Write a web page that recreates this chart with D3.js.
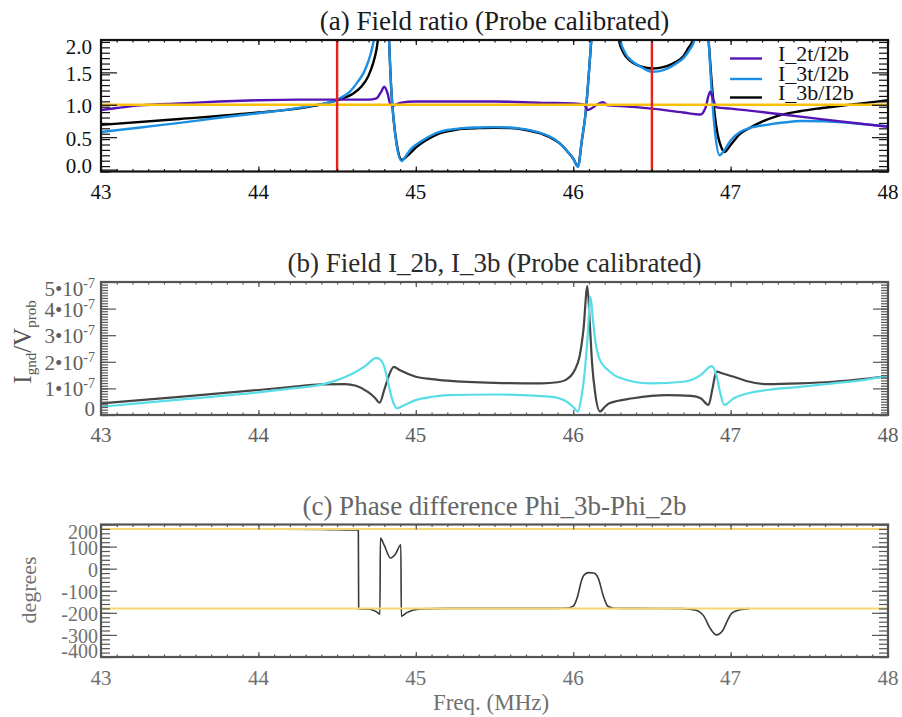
<!DOCTYPE html>
<html><head><meta charset="utf-8">
<script src="https://cdn.jsdelivr.net/npm/d3@7"></script>
<style>
body{margin:0;background:#fff}
svg{display:block}
</style>
</head><body>
<svg id="chart" width="902" height="717" font-family="'Liberation Serif', 'DejaVu Serif', 'Noto Serif', serif"></svg>
<script>
// ---------------- data ----------------
const xTicks = [43, 44, 45, 46, 47, 48];
const ratioTicks = [0, 0.5, 1.0, 1.5, 2.0];
const ratioTickLabels = ["0.0", "0.5", "1.0", "1.5", "2.0"];
const fieldTicks = [0, 1e-7, 2e-7, 3e-7, 4e-7, 5e-7];
const fieldTickMantissa = ["0", "1", "2", "3", "4", "5"];
const phaseTicks = [200, 100, 0, -100, -200, -300, -400];
const phaseTickLabels = ["200", "100", "0", "-100", "-200", "-300", "-400"];
const legendLabels = ["I_2t/I2b", "I_3t/I2b", "I_3b/I2b"];
const markerFreqs = [44.5, 46.5];
const ratioRef = [1.0];
const phaseRefs = [180, -180];

// (a) I_2t/I2b  [freq MHz, ratio]
const ratio2t = [[43,0.92],[43.1,0.95],[43.25,0.99],[43.5,1.02],[43.75,1.05],[44,1.07],[44.25,1.08],[44.5,1.08],[44.7,1.08],[44.75,1.1],[44.78,1.2],[44.8,1.28],[44.82,1.18],[44.84,1.0],[44.86,0.99],[44.9,1.03],[45.0,1.05],[45.5,1.05],[45.8,1.03],[46.0,1.02],[46.07,1.0],[46.09,0.92],[46.12,0.95],[46.15,1.0],[46.19,1.04],[46.22,0.99],[46.3,0.98],[46.5,0.94],[46.7,0.88],[46.81,0.85],[46.84,0.95],[46.87,1.2],[46.89,1.08],[46.91,0.96],[47.0,0.94],[47.33,0.85],[47.6,0.77],[48,0.66]];
// (a) I_3t/I2b
const ratio3t = [[43,0.58],[43.25,0.65],[43.5,0.72],[43.75,0.8],[44,0.87],[44.2,0.93],[44.35,0.99],[44.5,1.08],[44.58,1.2],[44.63,1.35],[44.67,1.5],[44.7,1.68],[44.72,1.85],[44.74,2.1],[44.76,2.6],[44.82,2.6],[44.83,2.0],[44.845,1.2],[44.86,0.75],[44.88,0.35],[44.91,0.13],[44.94,0.22],[44.97,0.32],[45.0,0.38],[45.05,0.46],[45.1,0.53],[45.15,0.58],[45.2,0.61],[45.3,0.64],[45.4,0.65],[45.5,0.655],[45.6,0.65],[45.7,0.62],[45.8,0.56],[45.88,0.47],[45.93,0.37],[45.97,0.26],[46.0,0.17],[46.03,0.04],[46.055,0.45],[46.08,0.9],[46.1,1.5],[46.115,2.0],[46.13,2.6],[46.28,2.6],[46.3,2.0],[46.33,1.8],[46.37,1.68],[46.42,1.6],[46.47,1.53],[46.5,1.51],[46.55,1.52],[46.6,1.56],[46.65,1.63],[46.7,1.72],[46.74,1.85],[46.77,2.0],[46.79,2.6],[46.84,2.6],[46.86,2.0],[46.88,1.2],[46.9,0.6],[46.93,0.22],[46.96,0.3],[47.0,0.45],[47.06,0.58],[47.12,0.64],[47.23,0.69],[47.35,0.73],[47.45,0.75],[47.6,0.745],[47.75,0.72],[47.9,0.69],[48,0.67]];
// (a) I_3b/I2b
const ratio3b = [[43,0.69],[43.5,0.78],[44,0.88],[44.3,0.96],[44.5,1.07],[44.6,1.17],[44.65,1.27],[44.7,1.45],[44.73,1.65],[44.75,1.85],[44.77,2.2],[44.8,2.6],[44.82,2.6],[44.83,2.0],[44.845,1.2],[44.86,0.75],[44.88,0.38],[44.91,0.15],[44.95,0.22],[45.0,0.34],[45.05,0.43],[45.1,0.5],[45.15,0.56],[45.2,0.59],[45.3,0.63],[45.4,0.64],[45.5,0.645],[45.6,0.64],[45.7,0.61],[45.8,0.55],[45.88,0.46],[45.93,0.37],[45.97,0.26],[46.0,0.17],[46.03,0.05],[46.055,0.45],[46.08,0.9],[46.1,1.5],[46.115,2.0],[46.13,2.6],[46.27,2.6],[46.29,2.0],[46.32,1.8],[46.36,1.68],[46.42,1.6],[46.47,1.57],[46.5,1.56],[46.55,1.57],[46.6,1.6],[46.65,1.66],[46.7,1.75],[46.73,1.87],[46.76,2.0],[46.78,2.6],[46.84,2.6],[46.86,2.0],[46.885,1.2],[46.91,0.65],[46.94,0.35],[46.96,0.27],[47.0,0.38],[47.06,0.55],[47.12,0.64],[47.2,0.74],[47.3,0.83],[47.44,0.9],[47.55,0.94],[47.65,0.97],[47.86,1.03],[48,1.07]];

// (b) I_2b and I_3b field  [freq MHz, I_gnd/V_prob]
const field2b = [[43,0.44e-7],[43.5,0.68e-7],[44,0.94e-7],[44.2,1.05e-7],[44.4,1.15e-7],[44.55,1.16e-7],[44.62,1.1e-7],[44.7,0.85e-7],[44.74,0.65e-7],[44.77,0.46e-7],[44.8,0.95e-7],[44.83,1.5e-7],[44.86,1.81e-7],[44.9,1.68e-7],[45.0,1.44e-7],[45.1,1.35e-7],[45.2,1.29e-7],[45.5,1.21e-7],[45.8,1.19e-7],[45.9,1.23e-7],[45.95,1.31e-7],[46.01,1.69e-7],[46.04,2.19e-7],[46.065,3.2e-7],[46.09,4.85e-7],[46.105,3.5e-7],[46.12,1.94e-7],[46.14,0.8e-7],[46.17,0.13e-7],[46.2,0.3e-7],[46.23,0.44e-7],[46.38,0.63e-7],[46.6,0.75e-7],[46.75,0.72e-7],[46.81,0.63e-7],[46.86,0.38e-7],[46.885,1.0e-7],[46.91,1.63e-7],[46.95,1.56e-7],[47.02,1.44e-7],[47.1,1.28e-7],[47.23,1.16e-7],[47.44,1.19e-7],[47.65,1.25e-7],[47.87,1.37e-7],[48,1.46e-7]];
const field3b = [[43,0.31e-7],[43.5,0.58e-7],[44,0.85e-7],[44.2,0.99e-7],[44.4,1.14e-7],[44.5,1.31e-7],[44.6,1.56e-7],[44.68,1.85e-7],[44.75,2.15e-7],[44.78,2.05e-7],[44.8,1.81e-7],[44.83,1.06e-7],[44.855,0.5e-7],[44.88,0.25e-7],[44.92,0.35e-7],[45.0,0.56e-7],[45.1,0.68e-7],[45.2,0.75e-7],[45.5,0.77e-7],[45.85,0.69e-7],[45.96,0.5e-7],[46.0,0.3e-7],[46.03,0.13e-7],[46.05,0.6e-7],[46.07,1.44e-7],[46.09,2.8e-7],[46.11,4.44e-7],[46.125,3.6e-7],[46.14,2.81e-7],[46.17,2.06e-7],[46.22,1.7e-7],[46.28,1.44e-7],[46.49,1.19e-7],[46.7,1.25e-7],[46.81,1.5e-7],[46.88,1.84e-7],[46.91,1.5e-7],[46.935,0.8e-7],[46.96,0.38e-7],[47.02,0.63e-7],[47.1,0.8e-7],[47.23,0.94e-7],[47.44,1.06e-7],[47.65,1.19e-7],[47.87,1.34e-7],[48,1.47e-7]];

// (c) phase difference Phi_3b-Phi_2b [freq MHz, degrees]; null values = not drawn
const phaseDiff = [[43,179],[43.5,179],[44,179],[44.4,178],[44.5,176],[44.635,175],[44.637,-181],[44.7,-183],[44.73,-188],[44.76,-200],[44.772,-207],[44.775,139],[44.8,105],[44.84,48],[44.87,65],[44.905,108],[44.908,-215],[44.94,-200],[44.98,-188],[45.03,-182],[45.2,-180],[45.5,-180],[45.9,-180],[45.97,-178],[46.0,-170],[46.03,-120],[46.05,-60],[46.07,-28],[46.1,-18],[46.13,-20],[46.16,-45],[46.19,-120],[46.22,-170],[46.26,-179],[46.4,-180],[46.7,-181],[46.78,-188],[46.83,-215],[46.87,-270],[46.91,-300],[46.95,-280],[46.98,-235],[47.01,-200],[47.06,-186],[47.12,-181],[47.13,null]];

// ---------------- drawing ----------------
const svg = d3.select("#chart");
const L = 101, R = 888;
const x = d3.scaleLinear().domain([43, 48]).range([L, R]);
const xMinor = d3.range(43, 48.0001, 0.1).map(v => +v.toFixed(2));

const panels = [
  {key:"a", top:40, bottom:171.5, domain:[-0.03, 2.0], axis:"#111", lab:"#111", title:"#1a1a1a", minorStep:0.5/6,
   yMajor:ratioTicks, yLen:[16,9], xBase:199, yLabX:92, titleY:30, titleText:"(a) Field ratio (Probe calibrated)"},
  {key:"b", top:282, bottom:415, domain:[0, 5e-7], axis:"#555", lab:"#5e5e5e", title:"#2a2a2a", minorStep:0.1e-7,
   yMajor:fieldTicks, yLen:[15,7], xBase:442, yLabX:95, titleY:272, titleText:"(b) Field I_2b, I_3b (Probe calibrated)"},
  {key:"c", top:524.5, bottom:657, domain:[-400, 200], axis:"#555", lab:"#707070", title:"#666", minorStep:20,
   yMajor:phaseTicks, yLen:[16,9], xBase:685, yLabX:98, titleY:515, titleText:"(c) Phase difference Phi_3b-Phi_2b"}
];

panels.forEach(p => {
  p.y = d3.scaleLinear().domain(p.domain).range([p.bottom, p.top]);
  const g = svg.append("g").attr("class", "panel-" + p.key);
  p.g = g;
  svg.append("clipPath").attr("id", "clip-" + p.key)
    .append("rect").attr("x", L).attr("y", p.top).attr("width", R - L).attr("height", p.bottom - p.top);
  p.plot = g.append("g").attr("clip-path", `url(#clip-${p.key})`);
  g.append("text").attr("x", (L + R) / 2).attr("y", p.titleY).attr("text-anchor", "middle")
    .attr("font-size", 27).attr("fill", p.title).text(p.titleText);
});

function drawAxes(p) {
  const g = p.g.append("g");
  const yMinor = d3.range(p.domain[0], p.domain[1] + 1e-12, p.minorStep);
  const style = sel => { sel.select(".domain").remove(); sel.selectAll("line").attr("stroke", p.axis).attr("stroke-width", 1.2); };
  g.append("g").attr("transform", `translate(0,${p.bottom})`)
    .call(d3.axisBottom(x).tickValues(xMinor).tickSize(-2.5).tickFormat("")).call(style);
  g.append("g").attr("transform", `translate(0,${p.bottom})`)
    .call(d3.axisBottom(x).tickValues(xTicks).tickSize(-5).tickFormat("")).call(style);
  g.append("g").attr("transform", `translate(0,${p.top})`)
    .call(d3.axisTop(x).tickValues(xMinor).tickSize(-2.5).tickFormat("")).call(style);
  g.append("g").attr("transform", `translate(0,${p.top})`)
    .call(d3.axisTop(x).tickValues(xTicks).tickSize(-5).tickFormat("")).call(style);
  g.append("g").attr("transform", `translate(${L},0)`)
    .call(d3.axisLeft(p.y).tickValues(yMinor).tickSize(-p.yLen[1]).tickFormat("")).call(style);
  g.append("g").attr("transform", `translate(${L},0)`)
    .call(d3.axisLeft(p.y).tickValues(p.yMajor).tickSize(-p.yLen[0]).tickFormat("")).call(style);
  g.append("g").attr("transform", `translate(${R},0)`)
    .call(d3.axisRight(p.y).tickValues(yMinor).tickSize(-p.yLen[1]).tickFormat("")).call(style);
  g.append("g").attr("transform", `translate(${R},0)`)
    .call(d3.axisRight(p.y).tickValues(p.yMajor).tickSize(-p.yLen[0]).tickFormat("")).call(style);
  g.append("rect").attr("x", L).attr("y", p.top).attr("width", R - L).attr("height", p.bottom - p.top)
    .attr("fill", "none").attr("stroke", p.axis).attr("stroke-width", 2.2);
  g.selectAll(".xl").data(xTicks).join("text")
    .attr("x", d => x(d)).attr("y", p.xBase).attr("text-anchor", "middle")
    .attr("font-size", 21).attr("fill", p.lab).text(d => d);
}

function yLabelPos(p, v) {
  const c = p.y(v) + 1;
  return Math.max(p.top + 7, Math.min(p.bottom - 6, c));
}

// ---- panel (a)
const pa = panels[0];
const lineA = d3.line().x(d => x(d[0])).y(d => pa.y(d[1])).curve(d3.curveMonotoneX);
const seriesA = [
  {data: ratio3b, color: "#000000"},
  {data: ratio3t, color: "#1b8fe3"},
  {data: ratio2t, color: "#5512b5"}
];
seriesA.forEach(s => pa.plot.append("path").datum(s.data).attr("d", lineA)
  .attr("fill", "none").attr("stroke", s.color).attr("stroke-width", 2.4).attr("stroke-linejoin", "round"));
pa.plot.selectAll(".ref").data(ratioRef).join("line")
  .attr("x1", L).attr("x2", R).attr("y1", d => pa.y(d)).attr("y2", d => pa.y(d))
  .attr("stroke", "#fbc10a").attr("stroke-width", 2.6);
pa.plot.selectAll(".mk").data(markerFreqs).join("line")
  .attr("x1", d => x(d)).attr("x2", d => x(d)).attr("y1", pa.top).attr("y2", pa.bottom)
  .attr("stroke", "#e8201a").attr("stroke-width", 2.4);
drawAxes(pa);
pa.g.selectAll(".yl").data(ratioTicks).join("text")
  .attr("x", pa.yLabX).attr("y", d => yLabelPos(pa, d)).attr("dy", "0.35em").attr("text-anchor", "end")
  .attr("font-size", 21).attr("fill", pa.lab).text((d, i) => ratioTickLabels[i]);
const legColors = ["#5512b5", "#1b8fe3", "#000000"];
const legY = [58.5, 79, 97.5];
const leg = pa.g.append("g");
legendLabels.forEach((t, i) => {
  leg.append("line").attr("x1", 730).attr("x2", 762).attr("y1", legY[i]).attr("y2", legY[i])
    .attr("stroke", legColors[i]).attr("stroke-width", 2.4);
  leg.append("text").attr("x", 778).attr("y", legY[i] + 2).attr("font-size", 22).attr("fill", "#111").text(t);
});

// ---- panel (b)
const pb = panels[1];
const lineB = d3.line().x(d => x(d[0])).y(d => pb.y(d[1])).curve(d3.curveMonotoneX);
pb.plot.append("path").datum(field2b).attr("d", lineB).attr("fill", "none")
  .attr("stroke", "#454545").attr("stroke-width", 2.2);
pb.plot.append("path").datum(field3b).attr("d", lineB).attr("fill", "none")
  .attr("stroke", "#58dde8").attr("stroke-width", 2.2);
drawAxes(pb);
const fl = pb.g.selectAll(".yl").data(fieldTicks).join("text")
  .attr("x", pb.yLabX).attr("y", d => yLabelPos(pb, d) + 7).attr("text-anchor", "end")
  .attr("font-size", 21).attr("fill", pb.lab);
fl.each(function(d, i) {
  const t = d3.select(this);
  if (d === 0) { t.text("0"); return; }
  t.append("tspan").text(fieldTickMantissa[i] + "\u202210");
  t.append("tspan").attr("dy", -8).attr("font-size", 14).text("-7");
});
const yt = pb.g.append("text").attr("transform", "translate(31,342) rotate(-90)")
  .attr("text-anchor", "middle").attr("font-size", 25).attr("fill", "#555");
yt.append("tspan").text("I");
yt.append("tspan").attr("dy", 5).attr("font-size", 15).text("gnd");
yt.append("tspan").attr("dy", -5).text("/V");
yt.append("tspan").attr("dy", 5).attr("font-size", 15).text("prob");

// ---- panel (c)
const pc = panels[2];
const lineC = d3.line().defined(d => d[1] !== null).x(d => x(d[0])).y(d => pc.y(d[1])).curve(d3.curveMonotoneX);
pc.plot.append("path").datum(phaseDiff).attr("d", lineC).attr("fill", "none")
  .attr("stroke", "#3a3a3a").attr("stroke-width", 1.6);
pc.plot.selectAll(".ref").data(phaseRefs).join("line")
  .attr("x1", L).attr("x2", R).attr("y1", d => pc.y(d)).attr("y2", d => pc.y(d))
  .attr("stroke", "#f5d874").attr("stroke-width", 2);
drawAxes(pc);
pc.g.selectAll(".yl").data(phaseTicks).join("text")
  .attr("x", pc.yLabX).attr("y", d => yLabelPos(pc, d)).attr("dy", "0.35em").attr("text-anchor", "end")
  .attr("font-size", 20).attr("fill", pc.lab).text((d, i) => phaseTickLabels[i]);
svg.append("text").attr("transform", "translate(36,590) rotate(-90)").attr("text-anchor", "middle")
  .attr("font-size", 22).attr("fill", "#707070").text("degrees");
svg.append("text").attr("x", 491).attr("y", 710).attr("text-anchor", "middle")
  .attr("font-size", 23).attr("fill", "#707070").text("Freq. (MHz)");
</script>
</body></html>
